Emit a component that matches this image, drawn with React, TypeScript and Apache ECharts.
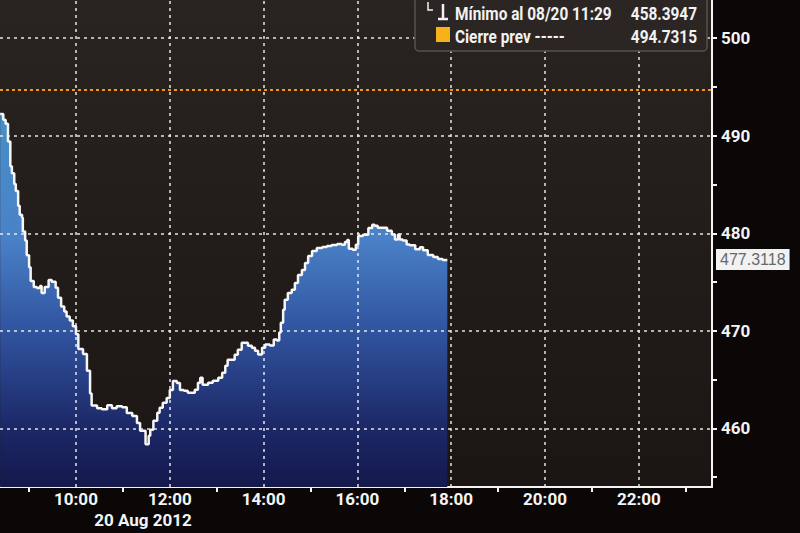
import React, { useEffect, useRef } from "react";
import * as echarts from "echarts";

// ---- data ----
const TIMES = [
  "08:23","08:27","08:30","08:33","08:36","08:38","08:41","08:43","08:46","08:48",
  "08:51","08:52","08:55","08:57","09:00","09:02","09:06","09:10","09:14","09:16",
  "09:20","09:25","09:29","09:34","09:37","09:41","09:45","09:48","09:52","09:56",
  "10:00","10:03","10:09","10:14","10:18","10:20","10:27","10:33","10:40","10:46",
  "10:52","10:59","11:05","11:12","11:18","11:22","11:29","11:33","11:35","11:39",
  "11:44","11:47","11:51","11:56","12:00","12:04","12:09","12:13","12:18","12:23",
  "12:28","12:32","12:36","12:39","12:42","12:49","12:55","13:02","13:07","13:11",
  "13:14","13:20","13:23","13:27","13:32","13:36","13:40","13:45","13:49","13:53",
  "13:58","14:02","14:08","14:13","14:17","14:20","14:22","14:25","14:27","14:31",
  "14:36","14:40","14:44","14:49","14:53","14:57","15:02","15:08","15:15","15:21",
  "15:27","15:34","15:40","15:44","15:47","15:49","15:54","15:58","16:01","16:07",
  "16:14","16:19","16:22","16:26","16:31","16:38","16:44","16:48","16:52","16:54",
  "16:58","17:03","17:07","17:14","17:20","17:24","17:30","17:37","17:43","17:49",
  "17:55"
];
const VALUES = [
  492.23,491.62,491.22,489.40,486.86,486.15,485.04,484.33,482.81,481.89,
  481.59,480.17,479.26,477.74,476.52,475.10,474.49,474.40,474.60,473.89,
  474.50,475.22,475.02,474.41,473.40,472.49,471.98,471.48,471.07,470.47,
  469.66,468.13,467.63,465.91,463.58,462.36,462.06,461.96,462.37,462.07,
  462.28,462.18,461.58,461.27,460.57,459.76,458.39,459.26,459.87,460.78,
  461.60,462.11,462.62,463.13,463.94,464.86,464.66,463.95,463.85,463.65,
  463.66,463.97,464.68,465.19,464.48,464.69,464.89,465.20,465.71,466.43,
  467.04,467.04,467.55,468.06,468.78,468.78,468.48,468.28,467.97,467.57,
  468.28,468.59,468.49,469.11,469.01,469.82,470.84,472.16,473.18,473.89,
  474.20,474.91,475.72,476.24,476.95,477.66,478.17,478.48,478.59,478.69,
  478.80,478.90,478.81,479.11,479.32,478.41,478.31,478.82,479.73,479.84,
  480.55,480.86,480.76,480.56,480.56,480.26,479.86,479.36,479.87,479.36,
  479.26,478.86,478.76,478.36,478.56,478.26,477.76,477.56,477.36,477.26,
  477.31
];

const X_LABEL_HOURS = [10, 12, 14, 16, 18, 20, 22];
const X_TICK_HOURS = [9, 11, 13, 15, 17, 19, 21, 23];
const Y_LABEL_VALUES = [460, 470, 480, 490, 500];
const Y_TICK_VALUES = [455, 460, 465, 470, 475, 480, 485, 490, 495, 500];
const DATE_LABEL = "20 Aug 2012";

const MIN_LABEL = "Mínimo al 08/20 11:29";
const MIN_VALUE = 458.3947;
const PREV_LABEL = "Cierre prev -----";
const PREV_CLOSE = 494.7315;
const LAST_VALUE = 477.3118;

const X_MIN = 8.38;
const X_MAX = 23.56;
const Y_MIN = 454.0;
const Y_MAX = 503.9;

const FONT = "Roboto, 'Liberation Sans', sans-serif";

const toHours = (t: string) => {
  const [h, m] = t.split(":").map(Number);
  return h + m / 60;
};

export default function App() {
  const ref = useRef<HTMLDivElement>(null);

  useEffect(() => {
    if (!ref.current) return;
    const chart = echarts.init(ref.current, undefined, { renderer: "svg" });
    const data = TIMES.map((t, i) => [toHours(t), VALUES[i]]);

    const areaGradient = new echarts.graphic.LinearGradient(
      0, 100, 0, 487,
      [
        { offset: 0, color: "#4690c6" },
        { offset: 0.35, color: "#4a82c8" },
        { offset: 0.6, color: "#30539e" },
        { offset: 0.85, color: "#1c2766" },
        { offset: 1, color: "#15194c" },
      ],
      true
    );
    const bgGradient = new echarts.graphic.LinearGradient(0, 0, 0, 1, [
      { offset: 0, color: "#2a2421" },
      { offset: 1, color: "#1b1513" },
    ]);

    const gridLine = { color: "rgba(240,240,240,0.95)", width: 1.5, type: [3, 4] };

    const markData: any[] = [
      ...X_LABEL_HOURS.map((h) => ({ xAxis: h, lineStyle: gridLine })),
      ...Y_LABEL_VALUES.map((v) => ({ yAxis: v, lineStyle: gridLine })),
      {
        yAxis: PREV_CLOSE,
        lineStyle: { color: "#f3961c", width: 2, type: [3, 3] },
      },
    ];

    const textStyle = {
      fill: "#f2f2f2",
      fontFamily: FONT,
      fontSize: 19,
      fontWeight: "bold",
      verticalAlign: "middle",
    };

    chart.setOption({
      animation: false,
      backgroundColor: "#0b0707",
      grid: {
        left: 0,
        top: 0,
        right: 88,
        bottom: 46,
        show: true,
        backgroundColor: bgGradient,
        borderWidth: 0,
        outerBoundsMode: "none",
      },
      xAxis: {
        type: "value",
        min: X_MIN,
        max: X_MAX,
        axisLine: { show: true, lineStyle: { color: "#f4f4f4", width: 2 } },
        axisTick: {
          show: true,
          customValues: X_TICK_HOURS,
          length: 5,
          lineStyle: { color: "#f4f4f4", width: 2 },
        },
        splitLine: { show: false },
        axisLabel: {
          customValues: X_LABEL_HOURS,
          showMinLabel: true,
          showMaxLabel: true,
          color: "#f4f4f4",
          fontFamily: FONT,
          fontWeight: "bold",
          fontSize: 17,
          margin: 2,
          lineHeight: 20,
          formatter: (v: number) => `${v}:00`,
        },
      },
      yAxis: {
        type: "value",
        position: "right",
        min: Y_MIN,
        max: Y_MAX,
        axisLine: { show: true, lineStyle: { color: "#f4f4f4", width: 2 } },
        axisTick: {
          show: true,
          customValues: Y_TICK_VALUES,
          length: 5,
          lineStyle: { color: "#f4f4f4", width: 2 },
        },
        splitLine: { show: false },
        axisLabel: {
          customValues: Y_LABEL_VALUES,
          showMinLabel: true,
          showMaxLabel: true,
          color: "#f4f4f4",
          fontFamily: FONT,
          fontWeight: "bold",
          fontSize: 17,
          margin: 9,
        },
      },
      series: [
        {
          type: "line",
          data,
          step: "end",
          showSymbol: false,
          z: 2,
          lineStyle: { width: 0 },
          areaStyle: { color: areaGradient, opacity: 1 },
          silent: true,
          markLine: {
            silent: true,
            symbol: ["none", "none"],
            label: { show: false },
            z: 5,
            data: markData,
          },
        },
        {
          type: "line",
          data,
          step: "end",
          showSymbol: false,
          z: 10,
          silent: true,
          lineStyle: { color: "#f6f6f6", width: 2.5 },
          markLine: {
            silent: true,
            symbol: ["none", "none"],
            z: 12,
            data: [
              {
                yAxis: LAST_VALUE,
                lineStyle: { color: "rgba(0,0,0,0)", width: 0 },
                label: {
                  show: true,
                  position: "end",
                  distance: 4,
                  formatter: LAST_VALUE.toFixed(4),
                  color: "#66686c",
                  backgroundColor: "#f2f2f2",
                  padding: [3, 4, 2, 4],
                  fontFamily: "'Liberation Sans', sans-serif",
                  fontSize: 16,
                },
              },
            ],
          },
        },
      ],
      graphic: [
        {
          type: "text",
          z: 51,
          x: 143,
          y: 520,
          style: {
            text: DATE_LABEL,
            fill: "#f4f4f4",
            fontFamily: FONT,
            fontSize: 17,
            fontWeight: "bold",
            align: "center",
            verticalAlign: "middle",
          },
        },
        {
          type: "rect",
          z: 50,
          shape: { x: 415, y: -6, width: 292, height: 57, r: 4 },
          style: { fill: "#2b2623", stroke: "#57524e", lineWidth: 1.5 },
        },
        {
          type: "polyline",
          z: 51,
          shape: { points: [[428, 2], [428, 10], [433, 10]] },
          style: { stroke: "#f2f2f2", lineWidth: 1.5, fill: "none" },
        },
        {
          type: "line",
          z: 51,
          shape: { x1: 443, y1: 4, x2: 443, y2: 18 },
          style: { stroke: "#f2f2f2", lineWidth: 2.5 },
        },
        {
          type: "line",
          z: 51,
          shape: { x1: 438, y1: 19, x2: 448, y2: 19 },
          style: { stroke: "#f2f2f2", lineWidth: 2.5 },
        },
        {
          type: "rect",
          z: 51,
          shape: { x: 436, y: 27, width: 14, height: 15 },
          style: { fill: "#f7b21b" },
        },
        {
          type: "text",
          z: 51,
          x: 455,
          y: 13,
          scaleX: 0.81,
          style: { ...textStyle, text: MIN_LABEL, align: "left" },
        },
        {
          type: "text",
          z: 51,
          x: 697,
          y: 13,
          scaleX: 0.81,
          style: { ...textStyle, text: MIN_VALUE.toFixed(4), align: "right" },
        },
        {
          type: "text",
          z: 51,
          x: 455,
          y: 36,
          scaleX: 0.81,
          style: { ...textStyle, text: PREV_LABEL, align: "left" },
        },
        {
          type: "text",
          z: 51,
          x: 697,
          y: 36,
          scaleX: 0.81,
          style: { ...textStyle, text: PREV_CLOSE.toFixed(4), align: "right" },
        },
      ],
    });

    return () => chart.dispose();
  }, []);

  return (
    <div
      ref={ref}
      style={{ position: "fixed", left: 0, top: 0, width: 800, height: 533 }}
    />
  );
}
